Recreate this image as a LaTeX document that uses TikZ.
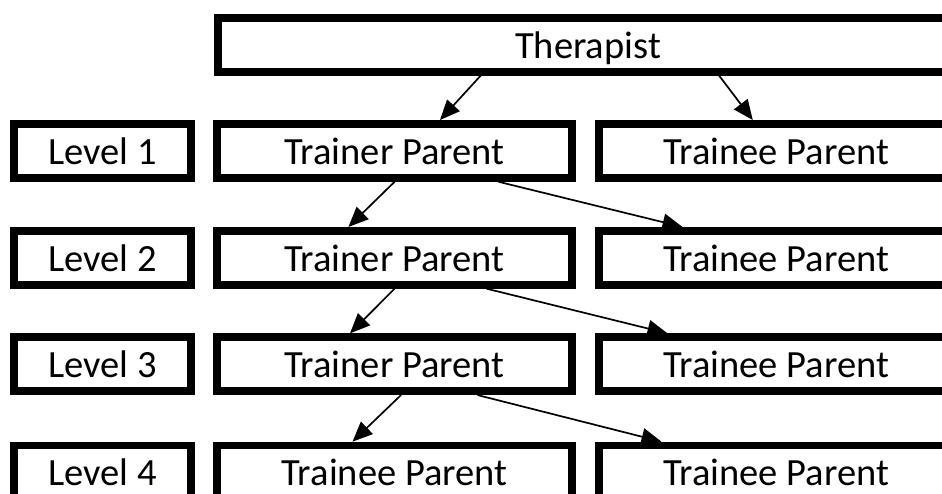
\documentclass[tikz,border=0pt]{standalone}
\usepackage{fontspec}
\setmainfont{Carlito}
\usetikzlibrary{arrows.meta}
\tikzset{
  box/.style={draw=black, line width=7.7pt, fill=white, inner sep=0pt,
    minimum height=54pt, font=\fontsize{38.5}{46}\selectfont, text depth=0pt},
  lvlbox/.style={box, minimum width=177.3pt},
  parbox/.style={box, minimum width=354.7pt},
  topbox/.style={box, minimum width=740pt},
  link/.style={line width=1.7pt, -{Triangle[length=20pt,width=17pt]}}
}
\begin{document}
\begin{tikzpicture}[x=1pt,y=-1pt]
\useasboundingbox (0,0) rectangle (942,493);
\clip (0,0) rectangle (942,493);
\node[topbox] (th) at (588,44.8) {Therapist};
% Level 1
\node[lvlbox] (l1) at (102.5,150.9) {Level 1};
\node[parbox] (tr1) at (394.5,150.9) {Trainer Parent};
\node[parbox] (te1) at (776,150.9) {Trainee Parent};
% Level 2
\node[lvlbox] (l2) at (102.5,257.8) {Level 2};
\node[parbox] (tr2) at (394.5,257.8) {Trainer Parent};
\node[parbox] (te2) at (776,257.8) {Trainee Parent};
% Level 3
\node[lvlbox] (l3) at (102.5,364.2) {Level 3};
\node[parbox] (tr3) at (394.5,364.2) {Trainer Parent};
\node[parbox] (te3) at (776,364.2) {Trainee Parent};
% Level 4
\node[lvlbox] (l4) at (102.5,472.5) {Level 4};
\node[parbox] (tr4) at (394.5,472.5) {Trainee Parent};
\node[parbox] (te4) at (776,472.5) {Trainee Parent};
% connectors
\draw[link] ([xshift=266.5pt]th.south west) -- ([xshift=226.7pt]tr1.north west);
\draw[link] ([xshift=505pt]th.south west) -- ([xshift=158pt]te1.north west);
\draw[link] ([xshift=181.3pt]tr1.south west) -- ([xshift=135.1pt]tr2.north west);
\draw[link] ([xshift=285.2pt]tr1.south west) -- ([xshift=87.7pt]te2.north west);
\draw[link] ([xshift=181.3pt]tr2.south west) -- ([xshift=136.7pt]tr3.north west);
\draw[link] ([xshift=273.2pt]tr2.south west) -- ([xshift=72.7pt]te3.north west);
\draw[link] ([xshift=187.7pt]tr3.south west) -- ([xshift=139.2pt]tr4.north west);
\draw[link] ([xshift=264.2pt]tr3.south west) -- ([xshift=66.7pt]te4.north west);
\end{tikzpicture}
\end{document}
